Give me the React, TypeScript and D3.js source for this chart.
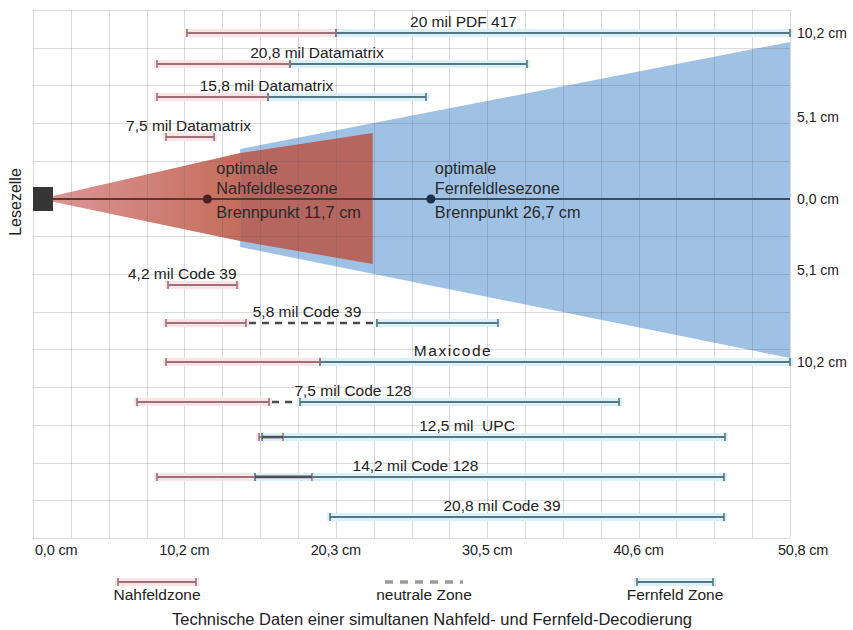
import React, { useEffect, useRef } from "react";
import * as d3 from "d3";

const W = 853;
const H = 630;

// axis ticks
const xTickValues = [0, 10.16, 20.32, 30.48, 40.64, 50.8];
const xTickLabels = ["0,0 cm", "10,2 cm", "20,3 cm", "30,5 cm", "40,6 cm", "50,8 cm"];
const yTickValues = [10.2, 5.1, 0, -5.1, -10.2];
const yTickLabels = ["10,2 cm", "5,1 cm", "0,0 cm", "5,1 cm", "10,2 cm"];

// symbols (bars)
const symbols = [
  "20 mil PDF 417",
  "20,8 mil Datamatrix",
  "15,8 mil Datamatrix",
  "7,5 mil Datamatrix",
  "4,2 mil Code 39",
  "5,8 mil Code 39",
  "Maxicode",
  "7,5 mil Code 128",
  "12,5 mil  UPC",
  "14,2 mil Code 128",
  "20,8 mil Code 39",
];
// lateral lane (cm) of each bar
const lanes = [10.2, 8.32, 6.31, 3.86, -5.93, -8.04, -10.2, -12.42, -14.36, -16.57, -18.79];
// reading distances in cm
const nearStart = [10.33, 8.32, 8.32, 8.93, 9.06, 8.93, 8.93, 6.98, 15.17, 8.32, null];
const nearEnd = [20.33, 17.25, 15.77, 12.15, 13.69, 14.29, 19.26, 15.84, 16.78, 18.72, null];
const neutralStart = [null, null, null, null, null, 14.29, null, 15.84, null, null, null];
const neutralEnd = [null, null, null, null, null, 23.08, null, 17.92, null, null, null];
const farStart = [20.33, 17.25, 15.77, null, null, 23.08, 19.26, 17.92, 15.37, 14.9, 19.93];
const farEnd = [50.8, 33.15, 26.37, null, null, 31.2, 50.8, 39.33, 46.44, 46.37, 46.37];

// focal points
const focusNear = 11.7;
const focusFar = 26.7;
const focusNearLines = ["optimale", "Nahfeldlesezone", "Brennpunkt 11,7 cm"];
const focusFarLines = ["optimale", "Fernfeldlesezone", "Brennpunkt 26,7 cm"];

// cone outlines (distance cm, lateral cm)
const emitterEnd = 1.34;
const nearConeDist = [1.34, 13.9, 22.8];
const nearConeTop = [0.19, 2.86, 4.1];
const nearConeBottom = [-0.2, -3.02, -4.67];
const farConeDist = [13.9, 50.8];
const farConeTop = [3.11, 9.65];
const farConeBottom = [-3.45, -9.98];

const legendLabels = ["Nahfeldzone", "neutrale Zone", "Fernfeld Zone"];
const caption = "Technische Daten einer simultanen Nahfeld- und Fernfeld-Decodierung";
const sideLabel = "Lesezelle";

const FONT = "'Liberation Sans', Arial, Helvetica, sans-serif";
const NEAR_CORE = "#a0707a";
const NEAR_HALO = "#fbe3e6";
const FAR_CORE = "#557684";
const FAR_HALO = "#daf1f8";
const NEUTRAL = "#4a4a4a";

export default function App() {
  const ref = useRef<SVGSVGElement>(null);

  useEffect(() => {
    const svg = d3.select(ref.current);
    svg.selectAll("*").remove();

    const x = d3.scaleLinear().domain([0, 50.8]).range([33, 790]);
    const y = d3
      .scaleLinear()
      .domain([-10.2, -5.1, 0, 5.1, 10.2])
      .range([362, 270, 199, 117, 33]);
    const gridY = d3.scaleLinear().domain([0, 14]).range([10, 538]);

    svg.append("rect").attr("width", W).attr("height", H).attr("fill", "#fff");

    const defs = svg.append("defs");
    const grad = defs
      .append("linearGradient")
      .attr("id", "redGrad")
      .attr("gradientUnits", "userSpaceOnUse")
      .attr("x1", x(nearConeDist[0]))
      .attr("x2", x(nearConeDist[1]))
      .attr("y1", 0)
      .attr("y2", 0);
    grad.append("stop").attr("offset", "0%").attr("stop-color", "#dc9595");
    grad.append("stop").attr("offset", "100%").attr("stop-color", "#c46d5b");

    const poly = d3
      .line<[number, number]>()
      .x((d) => x(d[0]))
      .y((d) => y(d[1]));

    // far cone (blue)
    const farPts: [number, number][] = [
      [farConeDist[0], farConeTop[0]],
      [farConeDist[1], farConeTop[1]],
      [farConeDist[1], farConeBottom[1]],
      [farConeDist[0], farConeBottom[0]],
    ];
    svg.append("path").attr("d", poly(farPts) + "Z").attr("fill", "#9fc1e4");

    // near cone (red), two parts
    const nearA: [number, number][] = [
      [nearConeDist[0], nearConeTop[0]],
      [nearConeDist[1], nearConeTop[1]],
      [nearConeDist[1], nearConeBottom[1]],
      [nearConeDist[0], nearConeBottom[0]],
    ];
    const nearB: [number, number][] = [
      [nearConeDist[1], nearConeTop[1]],
      [nearConeDist[2], nearConeTop[2]],
      [nearConeDist[2], nearConeBottom[2]],
      [nearConeDist[1], nearConeBottom[1]],
    ];
    svg.append("path").attr("d", poly(nearA) + "Z").attr("fill", "url(#redGrad)");
    svg.append("path").attr("d", poly(nearB) + "Z").attr("fill", "#b6665f");

    // grid
    const grid = svg.append("g").attr("stroke", "rgba(90,90,90,0.22)").attr("stroke-width", 1);
    d3.range(0, 21).forEach((i) => {
      const xx = Math.round(x(i * 2.54)) + 0.5;
      grid.append("line").attr("x1", xx).attr("x2", xx).attr("y1", gridY(0)).attr("y2", gridY(14));
    });
    d3.range(0, 15).forEach((i) => {
      const yy = Math.round(gridY(i)) + 0.5;
      grid.append("line").attr("x1", x(0)).attr("x2", x(50.8)).attr("y1", yy).attr("y2", yy);
    });

    // center axis
    const y0 = y(0);
    svg
      .append("line")
      .attr("x1", x(emitterEnd))
      .attr("x2", x(nearConeDist[2]))
      .attr("y1", y0)
      .attr("y2", y0)
      .attr("stroke", "#5e3434")
      .attr("stroke-width", 2);
    svg
      .append("line")
      .attr("x1", x(nearConeDist[2]))
      .attr("x2", x(50.8))
      .attr("y1", y0)
      .attr("y2", y0)
      .attr("stroke", "#3a4c5e")
      .attr("stroke-width", 2);
    svg.append("circle").attr("cx", x(focusNear)).attr("cy", y0).attr("r", 4.5).attr("fill", "#4a1f1f");
    svg.append("circle").attr("cx", x(focusFar)).attr("cy", y0).attr("r", 4.5).attr("fill", "#1d2f4a");

    // emitter
    svg
      .append("rect")
      .attr("x", x(0))
      .attr("y", y0 - 12)
      .attr("width", x(emitterEnd) - x(0))
      .attr("height", 24)
      .attr("fill", "#363636");

    // focus labels
    const offs = [-25, -5, 19];
    focusNearLines.forEach((t, i) => {
      svg
        .append("text")
        .attr("x", x(focusNear) + 9)
        .attr("y", y0 + offs[i])
        .attr("font-family", FONT)
        .attr("font-size", 16.3)
        .attr("fill", "#2a2a2a")
        .text(t);
    });
    focusFarLines.forEach((t, i) => {
      svg
        .append("text")
        .attr("x", x(focusFar) + 4)
        .attr("y", y0 + offs[i])
        .attr("font-family", FONT)
        .attr("font-size", 16.3)
        .attr("fill", "#2a2a2a")
        .text(t);
    });

    // bars
    const bars = svg.append("g");
    const drawHalo = (a: number, b: number, yy: number, color: string) => {
      bars
        .append("rect")
        .attr("x", x(a) - 3)
        .attr("y", yy - 4)
        .attr("width", x(b) - x(a) + 6)
        .attr("height", 8)
        .attr("fill", color);
    };
    const drawCore = (a: number, b: number, yy: number, color: string, w = 2) => {
      bars
        .append("line")
        .attr("x1", x(a))
        .attr("x2", x(b))
        .attr("y1", yy)
        .attr("y2", yy)
        .attr("stroke", color)
        .attr("stroke-width", w);
    };
    const drawCap = (a: number, yy: number, color: string) => {
      bars
        .append("line")
        .attr("x1", x(a))
        .attr("x2", x(a))
        .attr("y1", yy - 4)
        .attr("y2", yy + 4)
        .attr("stroke", color)
        .attr("stroke-width", 1.6);
    };

    symbols.forEach((name, i) => {
      const yy = y(lanes[i]);
      const ns = nearStart[i], ne = nearEnd[i];
      const fs = farStart[i], fe = farEnd[i];
      const us = neutralStart[i], ue = neutralEnd[i];
      if (ns != null && ne != null) drawHalo(ns, ne, yy, NEAR_HALO);
      if (fs != null && fe != null) drawHalo(fs, fe, yy, FAR_HALO);
      if (fs != null && fe != null) {
        drawCore(fs, fe, yy, FAR_CORE);
        drawCap(fs, yy, FAR_CORE);
        drawCap(fe, yy, FAR_CORE);
      }
      if (ns != null && ne != null) {
        drawCore(ns, ne, yy, NEAR_CORE);
        drawCap(ns, yy, NEAR_CORE);
        drawCap(ne, yy, NEAR_CORE);
      }
      if (ns != null && ne != null && fs != null && fe != null) {
        const oa = Math.max(ns, fs), ob = Math.min(ne, fe);
        if (ob > oa) drawCore(oa, ob, yy, "#4e4e54", 2.6);
      }
      if (us != null && ue != null) {
        bars
          .append("line")
          .attr("x1", x(us) + 3)
          .attr("x2", x(ue) - 2)
          .attr("y1", yy)
          .attr("y2", yy)
          .attr("stroke", NEUTRAL)
          .attr("stroke-width", 2.5)
          .attr("stroke-dasharray", "7,6");
      }
      const starts = [ns, fs, us].filter((v) => v != null) as number[];
      const ends = [ne, fe, ue].filter((v) => v != null) as number[];
      const s0 = d3.min(starts)!;
      const e0 = d3.max(ends)!;
      const label = bars
        .append("text")
        .attr("y", yy - 6)
        .attr("font-family", FONT)
        .attr("font-size", 15.5)
        .attr("fill", "#222")
        .attr("text-anchor", "middle")
        .style("white-space", "pre")
        .attr("letter-spacing", name === "Maxicode" ? 1.5 : 0)
        .text(name);
      const w = (label.node() as SVGTextElement).getComputedTextLength();
      const cx = Math.max(x((s0 + e0) / 2) - 25, x(s0) - 40 + w / 2);
      label.attr("x", cx);
    });

    // bottom axis labels
    xTickValues.forEach((v, i) => {
      const last = i === xTickValues.length - 1;
      const first = i === 0;
      svg
        .append("text")
        .attr("x", first ? x(v) + 2 : last ? x(v) - 12 : x(v))
        .attr("y", 555)
        .attr("text-anchor", first || last ? "start" : "middle")
        .attr("font-family", FONT)
        .attr("font-size", 14.5)
        .attr("letter-spacing", -0.2)
        .attr("fill", "#222")
        .text(xTickLabels[i]);
    });

    // right axis labels
    yTickValues.forEach((v, i) => {
      svg
        .append("text")
        .attr("x", 797)
        .attr("y", y(v))
        .attr("dy", "0.35em")
        .attr("font-family", FONT)
        .attr("font-size", 14)
        .attr("fill", "#222")
        .text(yTickLabels[i]);
    });

    // side label
    svg
      .append("text")
      .attr("transform", `translate(21,${y0 + 3}) rotate(-90)`)
      .attr("text-anchor", "middle")
      .attr("font-family", FONT)
      .attr("font-size", 16)
      .attr("fill", "#222")
      .text(sideLabel);

    // legend
    const ly = 582;
    const legendSpans: [number, number][] = [
      [118, 196],
      [385, 463],
      [637, 713],
    ];
    const lg = svg.append("g");
    // near
    lg.append("rect").attr("x", legendSpans[0][0] - 3).attr("y", ly - 4).attr("width", legendSpans[0][1] - legendSpans[0][0] + 6).attr("height", 8).attr("fill", NEAR_HALO);
    lg.append("line").attr("x1", legendSpans[0][0]).attr("x2", legendSpans[0][1]).attr("y1", ly).attr("y2", ly).attr("stroke", NEAR_CORE).attr("stroke-width", 2);
    legendSpans[0].forEach((p) => lg.append("line").attr("x1", p).attr("x2", p).attr("y1", ly - 4).attr("y2", ly + 4).attr("stroke", NEAR_CORE).attr("stroke-width", 1.6));
    // neutral
    lg.append("line").attr("x1", legendSpans[1][0]).attr("x2", legendSpans[1][1]).attr("y1", ly).attr("y2", ly).attr("stroke", "#9a9a9a").attr("stroke-width", 3.5).attr("stroke-dasharray", "8,7");
    // far
    lg.append("rect").attr("x", legendSpans[2][0] - 3).attr("y", ly - 4).attr("width", legendSpans[2][1] - legendSpans[2][0] + 6).attr("height", 8).attr("fill", FAR_HALO);
    lg.append("line").attr("x1", legendSpans[2][0]).attr("x2", legendSpans[2][1]).attr("y1", ly).attr("y2", ly).attr("stroke", FAR_CORE).attr("stroke-width", 2);
    legendSpans[2].forEach((p) => lg.append("line").attr("x1", p).attr("x2", p).attr("y1", ly - 4).attr("y2", ly + 4).attr("stroke", FAR_CORE).attr("stroke-width", 1.6));

    const legendCenters = [157, 424, 675];
    legendLabels.forEach((t, i) => {
      lg.append("text")
        .attr("x", legendCenters[i])
        .attr("y", 600)
        .attr("text-anchor", "middle")
        .attr("font-family", FONT)
        .attr("font-size", 15.5)
        .attr("fill", "#222")
        .text(t);
    });

    svg
      .append("text")
      .attr("x", 432)
      .attr("y", 625)
      .attr("text-anchor", "middle")
      .attr("font-family", FONT)
      .attr("font-size", 16.5)
      .attr("fill", "#222")
      .text(caption);
  }, []);

  return (
    <svg
      ref={ref}
      width={W}
      height={H}
      style={{ position: "absolute", left: 0, top: 0, display: "block" }}
    />
  );
}
